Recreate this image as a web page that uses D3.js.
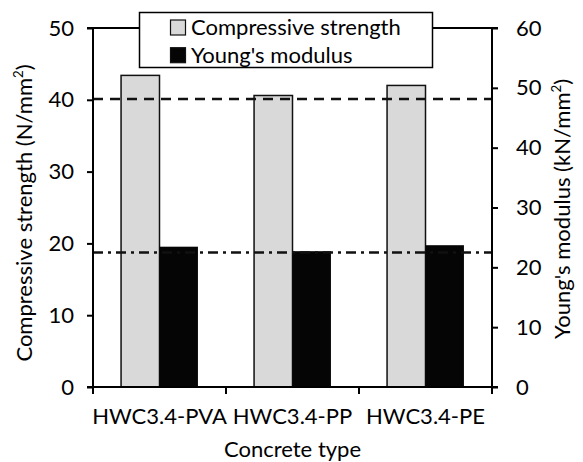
<!DOCTYPE html>
<html>
<head>
<meta charset="utf-8">
<script src="https://cdn.jsdelivr.net/npm/d3@7/dist/d3.min.js"></script>
<style>
  body { margin: 0; background: #fff; }
  svg { display: block; }
  text { font-family: Lato, "Open Sans", sans-serif; fill: #000; }
  .axis path, .axis line { stroke: #000; stroke-width: 2px; }
</style>
</head>
<body>
<div id="chart"></div>
<script>
// --- data ---
const categories = ["HWC3.4-PVA", "HWC3.4-PP", "HWC3.4-PE"];
const compressive = [43.4, 40.6, 42.0];   // N/mm2, left axis
const youngs = [23.45, 22.7, 23.7];       // kN/mm2, right axis
const refCompressive = 40.1;              // dashed line, left axis
const refYoungs = 22.5;                   // dash-dot line, right axis
const leftTicks = [0, 10, 20, 30, 40, 50];
const rightTicks = [0, 10, 20, 30, 40, 50, 60];
const seriesNames = ["Compressive strength", "Young's modulus"];

const W = 583, H = 462;
const pLeft = 93, pRight = 492, pTop = 28, pBottom = 387;

const svg = d3.select("#chart").append("svg")
  .attr("width", W).attr("height", H);

// fit font size so text width matches the original (Calibri ~18pt)
const probe = svg.append("text").attr("font-size", 100).text(seriesNames[0]);
const fs = 100 * 210 / probe.node().getComputedTextLength();
probe.remove();

const x = d3.scaleBand().domain(categories).range([pLeft, pRight]);
const x1 = d3.scaleBand().domain([0, 1]).range([0, x.bandwidth()])
  .paddingInner(0).paddingOuter(0.73);
const yL = d3.scaleLinear().domain([0, 50]).range([pBottom, pTop]);
const yR = d3.scaleLinear().domain([0, 60]).range([pBottom, pTop]);

// top frame line
svg.append("line")
  .attr("x1", pLeft - 6).attr("x2", pRight + 6)
  .attr("y1", pTop).attr("y2", pTop)
  .attr("stroke", "#000").attr("stroke-width", 2);

// bars
const groups = svg.append("g").selectAll("g")
  .data(categories).enter().append("g")
  .attr("transform", d => `translate(${x(d)},0)`);

groups.append("rect")
  .attr("x", x1(0)).attr("width", x1.bandwidth())
  .attr("y", (d, i) => yL(compressive[i]))
  .attr("height", (d, i) => pBottom - yL(compressive[i]))
  .attr("fill", "#d9d9d9").attr("stroke", "#111").attr("stroke-width", 1.5);

groups.append("rect")
  .attr("x", x1(1)).attr("width", x1.bandwidth())
  .attr("y", (d, i) => yR(youngs[i]))
  .attr("height", (d, i) => pBottom - yR(youngs[i]))
  .attr("fill", "#050505");

// reference lines
svg.append("line")
  .attr("x1", pLeft).attr("x2", pRight)
  .attr("y1", yL(refCompressive)).attr("y2", yL(refCompressive))
  .attr("stroke", "#111").attr("stroke-width", 2.5)
  .attr("stroke-dasharray", "10,7");

svg.append("line")
  .attr("x1", pLeft).attr("x2", pRight)
  .attr("y1", yR(refYoungs)).attr("y2", yR(refYoungs))
  .attr("stroke", "#111").attr("stroke-width", 2.5)
  .attr("stroke-dasharray", "10,5,3,5");

// axes
svg.append("g").attr("class", "axis")
  .attr("transform", `translate(${pLeft},0)`)
  .call(d3.axisLeft(yL).tickValues(leftTicks).tickSize(6).tickSizeOuter(0).tickPadding(13))
  .call(g => g.select(".domain").attr("d", `M0,${pTop}V${pBottom}`))
  .selectAll("text").attr("font-size", fs);

svg.append("g").attr("class", "axis")
  .attr("transform", `translate(${pRight},0)`)
  .call(d3.axisRight(yR).tickValues(rightTicks).tickSize(6).tickSizeOuter(0).tickPadding(18))
  .call(g => g.select(".domain").attr("d", `M0,${pTop}V${pBottom}`))
  .selectAll("text").attr("font-size", fs);

// x axis: ticks at category boundaries, labels at centres
const xAxis = svg.append("g").attr("class", "axis")
  .attr("transform", `translate(0,${pBottom})`);
xAxis.append("line")
  .attr("x1", pLeft - 6).attr("x2", pRight + 6)
  .attr("stroke", "#000").attr("stroke-width", 2);
xAxis.selectAll(".bt")
  .data(categories.map(d => x(d)).concat([x.range()[1]]))
  .enter().append("line").attr("class", "bt")
  .attr("x1", d => d).attr("x2", d => d)
  .attr("y1", 0).attr("y2", 7)
  .attr("stroke", "#000").attr("stroke-width", 2);
xAxis.selectAll(".lbl")
  .data(categories).enter().append("text").attr("class", "lbl")
  .attr("x", d => x(d) + x.bandwidth() / 2)
  .attr("y", 37)
  .attr("text-anchor", "middle")
  .attr("font-size", fs)
  .text(d => d);

// axis titles
svg.append("text")
  .attr("x", (pLeft + pRight) / 2).attr("y", 457)
  .attr("text-anchor", "middle").attr("font-size", fs)
  .text("Concrete type");

function titleWithSup(sel, main) {
  sel.append("tspan").text(main);
  sel.append("tspan").attr("font-size", fs * 0.6).attr("dy", -fs * 0.42).text("2");
  sel.append("tspan").attr("dy", fs * 0.42).text(")");
}

svg.append("text")
  .attr("transform", "translate(32,213) rotate(-90)")
  .attr("text-anchor", "middle").attr("font-size", fs)
  .call(titleWithSup, "Compressive strength (N/mm");

svg.append("text")
  .attr("transform", "translate(570,209) rotate(-90)")
  .attr("text-anchor", "middle").attr("font-size", fs)
  .call(titleWithSup, "Young's modulus (kN/mm");

// legend
const lg = svg.append("g").attr("transform", "translate(139.5,12.5)");
lg.append("rect").attr("width", 293).attr("height", 55)
  .attr("fill", "#fff").attr("stroke", "#000").attr("stroke-width", 1.5);
const items = lg.selectAll(".item").data(seriesNames).enter().append("g")
  .attr("transform", (d, i) => `translate(31,${7.5 + i * 27.7})`);
items.append("rect").attr("width", 15).attr("height", 15)
  .attr("fill", (d, i) => i === 0 ? "#d9d9d9" : "#050505")
  .attr("stroke", "#111").attr("stroke-width", 1.2);
items.append("text").attr("x", 20.5).attr("y", 15)
  .attr("font-size", fs).text(d => d);
</script>
</body>
</html>
